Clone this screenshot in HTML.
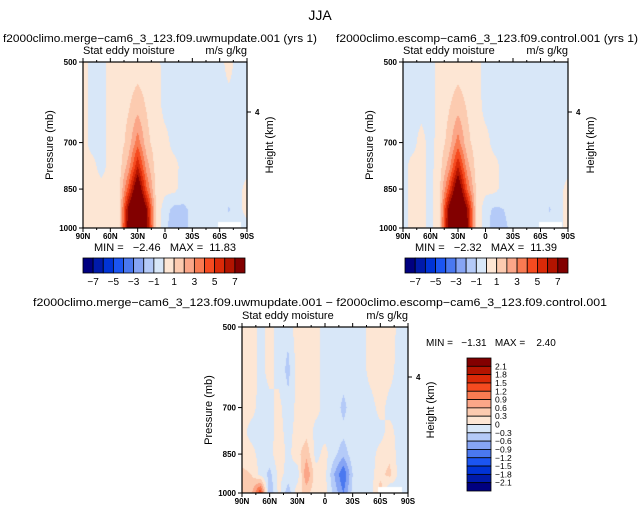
<!DOCTYPE html>
<html><head><meta charset="utf-8"><style>
body{margin:0;background:#fff;}
#wrap{position:relative;width:641px;height:513px;overflow:hidden;font-family:"Liberation Sans",sans-serif;}
canvas{position:absolute;}
svg{position:absolute;left:0;top:0;}
text{font-family:"Liberation Sans",sans-serif;fill:#000;white-space:pre;}
</style></head><body>
<div id="wrap">
<canvas id="c1" width="164" height="166" style="left:83px;top:62px"></canvas>
<canvas id="c2" width="165" height="166" style="left:403px;top:62px"></canvas>
<canvas id="c3" width="166" height="166" style="left:242px;top:327px"></canvas>
<svg id="s" width="641" height="513"></svg>
</div>
<script>
// data
const lats=[90,80,70,60,50,40,30,20,10,0,-10,-20,-30,-40,-50,-60,-70,-80,-90];
const levels=[500,600,700,775,850,925,1000];
const p1=[
[0.3,-0.3,-0.3,0.3,0.5,0.5,0.5,0.5,0.3,-0.3,-0.3,-0.3,-0.3,-0.3,-0.3,-0.3,0.3,-0.3,-0.3],
[0.3,-0.3,-0.3,0.3,0.5,0.9,1.5,0.9,0.4,-0.3,-0.3,-0.3,-0.3,-0.3,-0.3,-0.3,-0.3,-0.3,-0.3],
[0.3,-0.3,-0.3,0.3,0.5,1.4,3.6,1.3,0.5,0.3,-0.3,-0.3,-0.3,-0.3,-0.3,-0.3,-0.3,-0.3,-0.3],
[0.3,0.3,-0.3,0.3,0.6,2.5,6.0,2.5,0.6,0.3,0.3,-0.3,-0.3,-0.3,-0.3,-0.3,-0.3,-0.3,-0.3],
[0.3,0.3,0.3,0.3,0.8,4.5,9.0,4.0,0.8,0.3,0.3,-0.5,-0.3,-0.3,-0.3,-0.3,-0.3,-0.3,0.3],
[0.3,0.3,0.3,0.4,0.9,7.5,11.0,7.0,0.9,-0.6,-1.3,-1.2,-0.8,-0.3,-0.3,-0.3,-1.1,-0.3,0.3],
[0.3,0.3,0.6,0.4,0.9,8.0,11.8,7.5,0.8,-0.5,-2.0,-1.4,-0.6,-0.3,-0.3,-0.3,-0.5,-0.3,-0.3]];
const p2=[
[-0.3,-0.3,-0.3,-0.3,0.3,0.4,0.5,0.4,0.3,-0.3,-0.3,-0.3,-0.3,-0.3,-0.3,-0.3,-0.3,-0.3,-0.3],
[-0.3,-0.3,-0.3,-0.3,0.3,0.9,1.5,0.9,0.4,-0.3,-0.3,-0.3,-0.3,-0.3,-0.3,-0.3,-0.3,-0.3,-0.3],
[-0.3,-0.3,0.3,-0.3,0.4,1.4,3.5,1.3,0.5,0.3,-0.3,-0.3,-0.3,-0.3,-0.3,-0.3,-0.3,-0.3,-0.3],
[-0.3,0.3,0.3,-0.3,0.6,2.5,6.0,2.5,0.6,0.3,0.3,-0.3,-0.3,-0.3,-0.3,-0.3,-0.3,-0.3,-0.3],
[-0.3,0.3,0.3,-0.3,0.8,4.5,9.0,4.0,0.8,0.3,0.3,-0.4,-0.3,-0.3,-0.3,-0.3,-0.3,-0.3,0.3],
[-0.3,0.3,0.3,-0.3,0.9,7.5,11.0,7.0,0.9,-0.6,-1.2,-1.0,-0.5,-0.3,-0.3,-0.3,-1.1,-0.3,0.3],
[-0.3,0.3,0.3,-0.3,0.9,8.0,11.4,7.5,0.7,-0.4,-1.8,-1.3,-0.6,-0.3,-0.3,-0.3,-0.5,-0.3,0.3]];
const p3=[
[0.1,0.2,-0.1,0.1,-0.1,-0.2,0.2,0.1,0.1,-0.1,-0.1,-0.1,-0.1,-0.1,0.1,0.2,0.2,-0.1,-0.1],
[0.1,0.2,-0.1,0.1,-0.1,-0.4,0.1,0.2,0.1,-0.1,-0.1,-0.1,-0.1,-0.1,0.1,0.2,0.1,-0.1,-0.1],
[0.1,0.1,-0.1,-0.1,0.1,-0.2,0.1,0.1,0.1,-0.1,-0.1,-0.4,-0.1,-0.1,-0.1,0.1,-0.1,-0.1,-0.1],
[0.1,-0.1,-0.1,-0.1,0.1,-0.1,0.1,0.2,-0.1,-0.1,-0.1,-0.2,-0.1,-0.1,-0.1,-0.1,0.1,-0.1,-0.1],
[0.1,0.1,-0.1,-0.1,0.2,-0.1,0.2,0.5,-0.1,0.1,-0.2,-0.5,-0.1,-0.1,-0.1,0.1,0.2,-0.1,-0.1],
[0.4,0.3,-0.1,-0.4,0.1,-0.1,-0.2,0.9,0.1,0.1,-0.6,-1.2,-0.3,-0.1,-0.1,0.2,0.4,-0.1,-0.1],
[0.5,0.5,1.5,-0.6,0.1,-0.5,0.2,0.4,0.1,0.1,-0.4,-0.9,-0.2,-0.1,-0.1,0.5,-0.4,-0.1,-0.1]];
const cb1Labels=["-7","-5","-3","-1","1","3","5","7"];
const cb3Labels=["2.1","1.8","1.5","1.2","0.9","0.6","0.3","0","-0.3","-0.6","-0.9","-1.2","-1.5","-1.8","-2.1"];
const colors=["#000080","#001aaa","#0033d6","#1b55f2","#4a78f0","#86a4f4","#b4caf8","#d8e7f8","#fde6d4","#fccbb0","#fba688","#f97b52","#f64b20","#db2a08","#b31400","#820000"];
const pTicks=[500,700,850,1000];
const latTicks=[90,60,30,0,-30,-60,-90];
const latTickLabels=["90N","60N","30N","0","30S","60S","90S"];

function interp(grid,lat,p){
  const lp=Math.log(p);
  let i=0;while(i<levels.length-2&&Math.log(levels[i+1])<lp)i++;
  const a=Math.log(levels[i]),b=Math.log(levels[i+1]);
  let fy=(lp-a)/(b-a);fy=Math.max(0,Math.min(1,fy));
  const x=(90-lat)/10;let j=Math.min(Math.floor(x),17);let fx=x-j;
  const v00=grid[i][j],v01=grid[i][j+1],v10=grid[i+1][j],v11=grid[i+1][j+1];
  return (v00*(1-fx)+v01*fx)*(1-fy)+(v10*(1-fx)+v11*fx)*fy;
}
function drawPanel(id,grid,step){
  const c=document.getElementById(id),ctx=c.getContext('2d');
  const W=c.width,H=c.height;
  for(let py=0;py<H;py++){
    const f=(py+0.5)/H;const p=Math.exp(Math.log(500)+f*(Math.log(1000)-Math.log(500)));
    for(let px=0;px<W;px++){
      const lat=90-180*(px+0.5)/W;
      if(lat<-58&&p>975&&lat>-83){ctx.fillStyle="#fff";ctx.fillRect(px,py,1,1);continue;}
      const v=interp(grid,lat,p);
      let k=Math.floor(v/step)+8;k=Math.max(0,Math.min(15,k));
      ctx.fillStyle=colors[k];ctx.fillRect(px,py,1,1);
    }
  }
}
drawPanel('c1',p1,1);drawPanel('c2',p2,1);drawPanel('c3',p3,0.3);

const S=document.getElementById('s');const NS="http://www.w3.org/2000/svg";
function el(t,a,txt){const e=document.createElementNS(NS,t);for(const k in a)e.setAttribute(k,a[k]);if(txt!==undefined)e.textContent=txt;S.appendChild(e);return e;}
function T(x,y,s,size,anchor,name,extra){const e=el('text',Object.assign({x:x,y:y,'font-size':size,'text-anchor':anchor||'start'},extra||{}),s);return e;}

T(320,20,"JJA",14,'middle','main-title');
T(3,42,"f2000climo.merge\u2212cam6_3_123.f09.uwmupdate.001 (yrs 1)",11,'start','left-panel-title',{textLength:314,lengthAdjust:'spacingAndGlyphs'});
T(336,42,"f2000climo.escomp\u2212cam6_3_123.f09.control.001 (yrs 1)",11,'start','right-panel-title',{textLength:302,lengthAdjust:'spacingAndGlyphs'});
T(320,306,"f2000climo.merge\u2212cam6_3_123.f09.uwmupdate.001 \u2212 f2000climo.escomp\u2212cam6_3_123.f09.control.001",11,'middle','difference-title',{textLength:574,lengthAdjust:'spacingAndGlyphs'});

function axes(x0,x1,y0,y1,pfx,hy){
  const xOf=l=>x0+(90-l)/180*(x1-x0);
  const yOf=p=>y0+(Math.log(p)-Math.log(500))/(Math.log(1000)-Math.log(500))*(y1-y0);
  let r=el('rect',{x:x0,y:y0,width:x1-x0,height:y1-y0,fill:'none',stroke:'#000','stroke-width':1.2});
  
  T(x0,y0-8,"Stat eddy moisture",11,'start',pfx+'-subtitle');
  T(x1,y0-8,"m/s g/kg",11,'end',pfx+'-units');
  pTicks.forEach(p=>{const y=yOf(p);el('line',{x1:x0-4,x2:x0,y1:y,y2:y,stroke:'#000'});
    T(x0-6,y+3,String(p),8,'end',pfx+'-y-tick-'+p,{'font-weight':'bold'});});
  latTicks.forEach((l,i)=>{const x=xOf(l);el('line',{x1:x,x2:x,y1:y1,y2:y1+4,stroke:'#000'});el('line',{x1:x,x2:x,y1:y0,y2:y0-4,stroke:'#000'});
    T(x,y1+11,latTickLabels[i],8,'middle',pfx+'-x-tick-'+latTickLabels[i],{'font-weight':'bold'});});
  for(let l=75;l>-90;l-=15){if(l%30){const x=xOf(l);el('line',{x1:x,x2:x,y1:y1,y2:y1+2,stroke:'#000'});el('line',{x1:x,x2:x,y1:y0,y2:y0-2,stroke:'#000'});}}
  el('line',{x1:x1,x2:x1+4,y1:hy,y2:hy,stroke:'#000'});
  T(x1+8,hy+3,"4",8,'start',pfx+'-height-tick-4',{'font-weight':'bold'});
  const ym=(y0+y1)/2;
  T(0,0,"Pressure (mb)",11,'middle',pfx+'-y-axis-title',{transform:`translate(${x0-30},${ym}) rotate(-90)`});
  T(0,0,"Height (km)",11,'middle',pfx+'-right-axis-title',{transform:`translate(${x1+26},${ym}) rotate(-90)`});
}
axes(83,247,62,228,'left',112);
axes(403,568,62,228,'right',112);
axes(242,408,327,493,'diff',377);

T(165,251,"MIN =   \u22122.46   MAX =  11.83",11,'middle','left-min-max');
T(486,251,"MIN =   \u22122.32   MAX =  11.39",11,'middle','right-min-max');
T(426,346,"MIN =   \u22121.31   MAX =    2.40",10,'start','diff-min-max');

function hbar(x0,x1,y0,y1,pfx){
  const w=(x1-x0)/16;
  colors.forEach((c,i)=>{const r=el('rect',{x:x0+i*w,y:y0,width:w,height:y1-y0,fill:c,stroke:'#000','stroke-width':0.8});
    });
  cb1Labels.forEach((s,i)=>{T(x0+w*(1+2*i),y1+12,s.replace('-','\u2212'),10,'middle',pfx+'-colorbar-label');});
}
hbar(83,245,258,273,'left');hbar(405,568,258,273,'right');
(function(){const x0=467,x1=491,y0=358,y1=491,h=(y1-y0)/16;
  colors.slice().reverse().forEach((c,i)=>{const r=el('rect',{x:x0,y:y0+i*h,width:x1-x0,height:h,fill:c,stroke:'#000','stroke-width':0.8});
    });
  cb3Labels.forEach((s,i)=>{T(x1+4,y0+h*(i+1)+3,s.replace('-','\u2212'),8.5,'start','diff-colorbar-label');});
})();
</script>
</body></html>
